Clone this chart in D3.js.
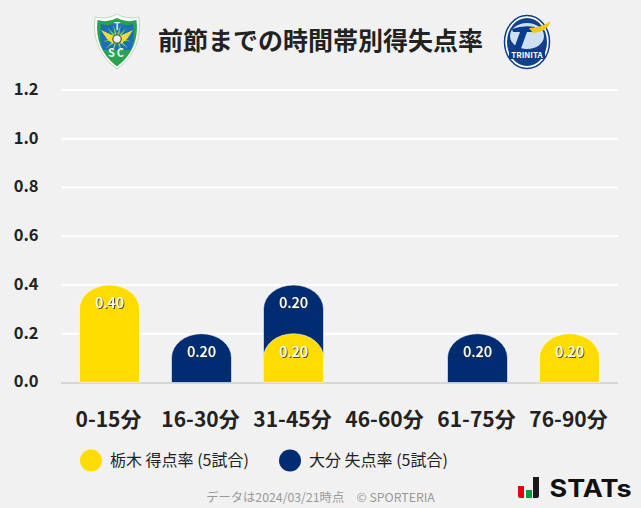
<!DOCTYPE html>
<html><head><meta charset="utf-8">
<script src="https://cdn.jsdelivr.net/npm/d3@7"></script>
<style>
html,body{margin:0;padding:0;background:#f1f1f1;}
svg{display:block;font-family:"Noto Sans CJK JP","Noto Sans",sans-serif;}
</style></head><body><svg id="c" width="641" height="508"></svg>
<script>
const categories=["0-15分","16-30分","31-45分","46-60分","61-75分","76-90分"];
const scored=[0.40,0,0.20,0,0,0.20];
const conceded=[0,0.20,0.20,0,0.20,0];
const yTicks=[0,0.2,0.4,0.6,0.8,1.0,1.2];
const title="前節までの時間帯別得失点率";
const legendLabels=["栃木 得点率 (5試合)","大分 失点率 (5試合)"];
const footer="データは2024/03/21時点　© SPORTERIA";
const YEL="#ffdc00",NAV="#002d72";

const svg=d3.select("#c");
const x=d3.scaleBand().domain(categories).range([63.5,615.5]).paddingInner(0.348).paddingOuter(0.174);
const y=d3.scaleLinear().domain([0,1.2]).range([382.5,90]);

const defs=svg.append("defs");
const f=defs.append("filter").attr("id","ts").attr("x","-20%").attr("y","-20%").attr("width","140%").attr("height","140%");
f.append("feDropShadow").attr("dx",1).attr("dy",1).attr("stdDeviation",0.3).attr("flood-color","#333").attr("flood-opacity",0.85);

const grid=svg.append("g");
grid.selectAll("line").data(yTicks.filter(d=>d>0)).join("line")
 .attr("x1",61).attr("x2",618).attr("y1",d=>y(d)).attr("y2",d=>y(d))
 .attr("stroke","#fff").attr("stroke-width",2);
grid.append("line").attr("x1",61).attr("x2",618).attr("y1",y(0)+0.5).attr("y2",y(0)+0.5).attr("stroke","#d6d6d6").attr("stroke-width",2);

svg.append("g").selectAll("text").data(yTicks).join("text")
 .attr("x",38.5).attr("y",d=>y(d)+4.8).attr("text-anchor","end")
 .attr("font-size",16.5).attr("font-weight",700).attr("fill","#222")
 .text(d=>d.toFixed(1));

svg.append("g").selectAll("text").data(categories).join("text")
 .attr("x",d=>x(d)+x.bandwidth()/2-1).attr("y",427).attr("text-anchor","middle")
 .attr("font-size",21).attr("font-weight",700).attr("fill","#222").text(d=>d);

function barPath(cat,base,v){
 const x0=x(cat),w=x.bandwidth(),rx=w/2,ry=24,t=y(base+v),b=y(base);
 return `M${x0},${y(0)}V${t+ry}A${rx},${ry} 0 0 1 ${x0+w},${t+ry}V${y(0)}Z`;
}
// stacked: conceded sits above scored, and each top is rounded
const rows=categories.map((c,i)=>({c,s:scored[i],n:conceded[i]}));
const dc=rows.filter(d=>d.n>0).map(d=>({c:d.c,base:d.s,v:d.n}));
const ds=rows.filter(d=>d.s>0).map(d=>({c:d.c,base:0,v:d.s}));
function series(data,col){
 svg.append("g").selectAll("path").data(data).join("path")
  .attr("d",d=>barPath(d.c,d.base,d.v)).attr("fill",col)
  .attr("stroke","#fff").attr("stroke-opacity",0.55).attr("stroke-width",1);
}
series(dc,NAV);series(ds,YEL);
function labels(data){
 svg.append("g").selectAll("text").data(data).join("text")
  .attr("x",d=>x(d.c)+x.bandwidth()/2).attr("y",d=>y(d.base+d.v)+23).attr("text-anchor","middle")
  .attr("font-size",14.5).attr("font-weight",500).attr("fill","#fff").attr("filter","url(#ts)")
  .text(d=>d.v.toFixed(2));
}
labels(dc);labels(ds);

svg.append("text").attr("x",320.5).attr("y",50).attr("text-anchor","middle")
 .attr("font-size",25).attr("font-weight",700).attr("fill","#222").text(title);

const lg=svg.append("g");
[[91,YEL],[290,NAV]].forEach(([cx,col],i)=>{
 lg.append("circle").attr("cx",cx).attr("cy",460.5).attr("r",11).attr("fill",col);
 lg.append("text").attr("x",cx+19).attr("y",466).attr("font-size",16).attr("fill","#222").text(legendLabels[i]);
});
svg.append("text").attr("x",320.5).attr("y",502).attr("text-anchor","middle")
 .attr("font-size",12.3).attr("fill","#999").text(footer);

// Tochigi crest
const t=svg.append("g").attr("transform","translate(117,42)");
t.append("path").attr("d","M-22,-25Q-10,-22 0,-28Q10,-22 22,-25Q26,8 0,27Q-26,8 -22,-25Z").attr("fill","#fff").attr("stroke","#bcd8c0");
t.append("path").attr("d","M-19.5,-22Q-9,-19 0,-24Q9,-19 19.5,-22Q23,7 0,24.5Q-23,7 -19.5,-22Z").attr("fill","#2aa24f");
t.append("path").attr("d","M-16,-18Q-7,-15 0,-20Q7,-15 16,-18Q18,0 14,8H-14Q-18,0 -16,-18Z").attr("fill","#1a6fb5");
[-70,-40,-15,15,40,70,-100,100,130,-130,160,-160].forEach(a=>{
 t.append("path").attr("transform",`translate(0,-3) rotate(${a})`).attr("d","M-1.6,0L0,-15L1.6,0Z").attr("fill","#7cc95a");
});
t.append("path").attr("d","M-16,-12L-3,-6L-4,2L-10,-3ZM16,-12L3,-6L4,2L10,-3Z").attr("fill","#f2dc3c");
t.append("circle").attr("cx",0).attr("cy",-3).attr("r",4.2).attr("fill","#eee").attr("stroke","#333");
t.append("text").attr("y",-12).attr("text-anchor","middle").attr("font-size",10).attr("font-weight",700).attr("fill","#dcebf2").text("T");
t.append("text").attr("y",15).attr("text-anchor","middle").attr("font-size",11).attr("font-weight",700).attr("fill","#e8f0e8").attr("letter-spacing",2).text("SC");

// Oita crest
const o=svg.append("g").attr("transform","translate(527,42)");
o.append("ellipse").attr("rx",22.5).attr("ry",26.5).attr("fill","#fff").attr("stroke","#0b3c8c").attr("stroke-width",1.5);
o.append("ellipse").attr("rx",20).attr("ry",24).attr("fill","#11408f");
o.append("ellipse").attr("cy",-6).attr("rx",17).attr("ry",13).attr("fill","#cfe0f2");
o.append("path").attr("d","M-15,-13Q-4,-17 8,-15L5,-10H0L-8,12H-15L-7,-10H-14Z").attr("fill","#0b3c8c");
o.append("path").attr("d","M2,-14Q14,-14 24,-21Q20,-10 6,-9Z").attr("fill","#f5c518");
o.append("rect").attr("x",-18).attr("y",8).attr("width",36).attr("height",9).attr("fill","#0b3c8c");
o.append("text").attr("y",16).attr("text-anchor","middle").attr("font-size",8).attr("font-weight",700).attr("fill","#fff").text("TRINITA");

// STATs logo
const s=svg.append("g");
s.append("path").attr("d","M518,486h6v12h-4q-2,0 -2,-2Z").attr("fill","#e60012");
s.append("rect").attr("x",526).attr("y",490).attr("width",6).attr("height",8).attr("fill","#00a040");
s.append("path").attr("d","M533,477h6v19q0,2 -2,2h-4Z").attr("fill","#1a1a1a");
s.append("text").attr("x",549.5).attr("y",497).attr("font-family","Inter,sans-serif").attr("font-size",24).attr("font-weight",700).attr("fill","#111").attr("textLength",82).attr("lengthAdjust","spacingAndGlyphs").text("STATs");
</script></body></html>
